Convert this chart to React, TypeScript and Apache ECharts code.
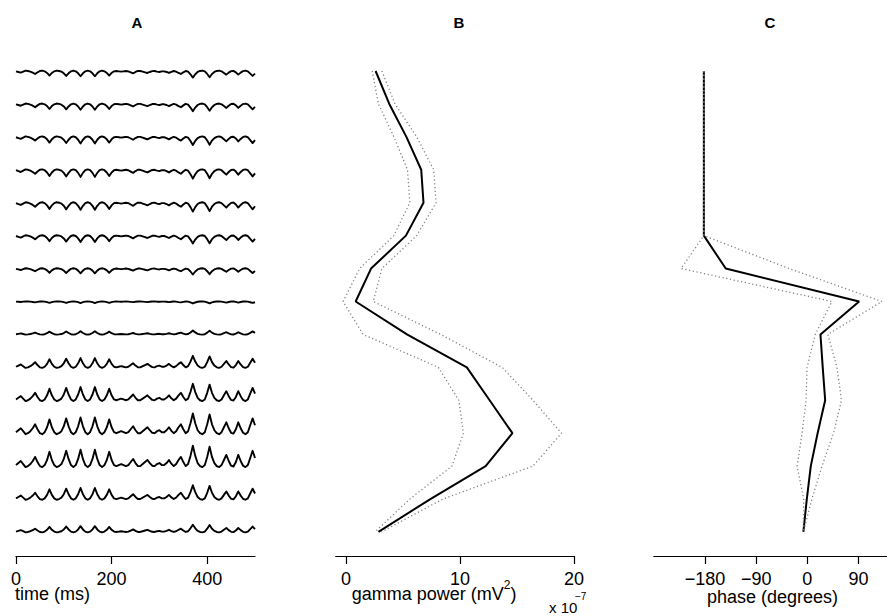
import React, { useEffect, useRef } from "react";
import * as echarts from "echarts";

// ---- data ----
const channels = [0, 1, 2, 3, 4, 5, 6, 7, 8, 9, 10, 11, 12, 13, 14];
const timeStepMs = 5;
// common gamma-burst waveform (relative units), sampled every 5 ms from 0 to 500 ms
const waveTemplate = [
  0.05, 0.15, 0.25, 0.1, -0.05, 0.0, 0.1, 0.25, 0.45, 0.2,
  0.0, -0.05, 0.05, 0.3, 0.7, 0.3, 0.05, -0.05, 0.0, 0.1,
  0.35, 0.75, 0.35, 0.05, -0.05, 0.05, 0.35, 0.8, 0.35, 0.05,
  -0.05, 0.05, 0.35, 0.8, 0.35, 0.05, -0.05, 0.05, 0.3, 0.7,
  0.3, 0.05, 0.0, 0.05, 0.1, 0.05, 0.0, 0.05, 0.2, 0.35,
  0.15, 0.0, 0.0, 0.1, 0.2, 0.3, 0.15, 0.02, 0.0, 0.1,
  0.15, 0.05, 0.05, 0.15, 0.3, 0.12, 0.0, 0.1, 0.3, 0.45,
  0.2, 0.0, 0.1, 0.5, 1.0, 0.5, 0.15, 0.0, -0.05, 0.05,
  0.45, 0.95, 0.45, 0.15, 0.0, -0.05, 0.05, 0.3, 0.55, 0.25,
  0.02, -0.02, 0.2, 0.55, 0.25, 0.02, -0.05, 0.05, 0.4, 0.75,
  0.4,
];
// per-channel amplitude (in channel spacings); negative = inverted waveform
const traceGain = [-0.2, -0.22, -0.25, -0.27, -0.27, -0.24, -0.18, -0.06, 0.12, 0.35, 0.5, 0.6, 0.62, 0.42, 0.22];

const gammaPower = [2.6, 3.8, 5.3, 6.6, 6.8, 5.26, 2.2, 0.85, 5.35, 10.6, 12.6, 14.6, 12.25, 7.4, 2.85];
const gammaLower = [2.3, 2.85, 4.2, 5.4, 5.6, 4.2, 1.2, -0.25, 1.5, 8.1, 9.9, 10.3, 9.3, 5.6, 2.55];
const gammaUpper = [3.15, 4.3, 6.2, 7.7, 7.9, 6.2, 3.15, 2.4, 8.3, 13.7, 16.4, 18.9, 16.4, 8.5, 3.1];

const phaseDeg = [-182, -182, -182, -182, -182, -182, -143.5, 91, 23, 27, 31.3, 18, 6, -1, -7];
const phaseLower = [-182, -182, -182, -182, -182, -182, -222, 43, 14, -0.5, -2.3, -9.3, -18, -6.5, -7];
const phaseUpper = [-182, -182, -182, -182, -182, -182, -32, 131, 36, 52, 60, 46, 25.7, 8, -7];

const timeTicks = [0, 200, 400];
const powerTicks = [0, 10, 20];
const phaseTicks = [-180, -90, 0, 90];

const FONT = "Liberation Sans, Arial, Helvetica, sans-serif";

function xAxisStyle(gridIndex: number, min: number, max: number, ticks: number[], fmt?: (v: number) => string) {
  return {
    type: "value",
    gridIndex,
    min,
    max,
    position: "bottom",
    axisLine: { show: true, onZero: false, lineStyle: { color: "#000", width: 1.2 } },
    axisTick: { show: true, customValues: ticks, length: 8, inside: false, lineStyle: { color: "#000", width: 1.2 } },
    axisLabel: {
      show: true,
      customValues: ticks,
      color: "#000",
      fontSize: 18,
      fontFamily: FONT,
      margin: 14,
      formatter: fmt || ((v: number) => String(v)),
    },
    splitLine: { show: false },
  };
}

function yAxisStyle(gridIndex: number) {
  return {
    type: "value",
    gridIndex,
    inverse: true,
    min: -1,
    max: 14.73,
    show: false,
    splitLine: { show: false },
  };
}

export default function App() {
  const ref = useRef<HTMLDivElement>(null);

  useEffect(() => {
    if (!ref.current) return;
    const chart = echarts.init(ref.current, null, { renderer: "svg" });

    const traceSeries = channels.map((ch, i) => ({
      type: "line",
      xAxisIndex: 0,
      yAxisIndex: 0,
      showSymbol: false,
      symbol: "none",
      silent: true,
      lineStyle: { color: "#000", width: 1.9, join: "round" },
      data: waveTemplate.map((v, k) => [k * timeStepMs, ch - traceGain[i] * v]),
    }));

    const dotted = { color: "#808080", width: 1.3, type: [1.2, 2.6] as any };
    const solid = { color: "#000", width: 2 };

    const profile = (vals: number[], axis: number, style: any, z: number) => ({
      type: "line",
      xAxisIndex: axis,
      yAxisIndex: axis,
      showSymbol: false,
      symbol: "none",
      silent: true,
      z,
      lineStyle: style,
      data: vals.map((v, i) => [v, channels[i]]),
    });

    const titleStyle = (t: string) => ({
      text: t,
      font: `bold 15px ${FONT}`,
      fill: "#000",
      textAlign: "center",
      textVerticalAlign: "middle",
    });

    const option: any = {
      animation: false,
      backgroundColor: "#fff",
      grid: [
        { left: 16, top: 38.07, width: 239, height: 517.93 },
        { left: 335.7, top: 38.07, width: 238.3, height: 517.93 },
        { left: 653.8, top: 38.07, width: 233.2, height: 517.93 },
      ],
      xAxis: [
        xAxisStyle(0, 0, 500, timeTicks),
        xAxisStyle(1, -0.9, 20, powerTicks),
        xAxisStyle(2, -270, 140, phaseTicks, (v: number) => (v < 0 ? "\u2212" + Math.abs(v) : String(v))),
      ],
      yAxis: [yAxisStyle(0), yAxisStyle(1), yAxisStyle(2)],
      series: [
        ...traceSeries,
        profile(gammaPower, 1, solid, 2),
        profile(gammaLower, 1, dotted, 3),
        profile(gammaUpper, 1, dotted, 3),
        profile(phaseDeg, 2, solid, 2),
        profile(phaseLower, 2, dotted, 3),
        profile(phaseUpper, 2, dotted, 3),
      ],
      graphic: [
        { type: "text", x: 137, y: 22, style: titleStyle("A") },
        { type: "text", x: 459, y: 22, style: titleStyle("B") },
        { type: "text", x: 770, y: 22, style: titleStyle("C") },
        { type: "text", x: 15, y: 594, style: { text: "time (ms)", font: `18px ${FONT}`, fill: "#000", textAlign: "left", textVerticalAlign: "middle" } },
        {
          type: "text",
          x: 351.7,
          y: 579,
          style: {
            text: "{n|gamma power (mV}{s|2}{n|)}",
            fill: "#000",
            textAlign: "left",
            textVerticalAlign: "top",
            rich: {
              n: { fontSize: 18, fontFamily: FONT, lineHeight: 30, fill: "#000" },
              s: { fontSize: 12, fontFamily: FONT, lineHeight: 12, verticalAlign: "top", fill: "#000" },
            },
          },
        },
        { type: "text", x: 549, y: 607, style: { text: "x 10", font: `15px ${FONT}`, fill: "#000", textAlign: "left", textVerticalAlign: "middle" } },
        { type: "text", x: 575, y: 596, style: { text: "\u22127", font: `10px ${FONT}`, fill: "#000", textAlign: "left", textVerticalAlign: "middle" } },
        { type: "text", x: 772.5, y: 597, style: { text: "phase (degrees)", font: `18px ${FONT}`, fill: "#000", textAlign: "center", textVerticalAlign: "middle" } },
      ],
    };

    chart.setOption(option);
    return () => chart.dispose();
  }, []);

  return <div ref={ref} style={{ position: "absolute", left: 0, top: 0, width: 887, height: 616 }} />;
}
